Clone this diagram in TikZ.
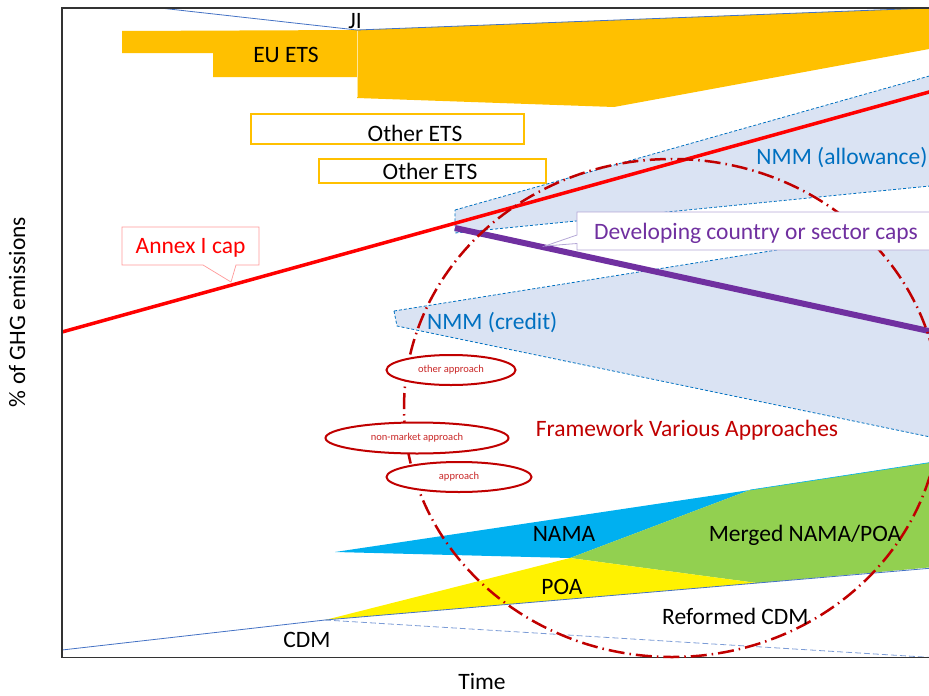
\documentclass[tikz,border=0pt]{standalone}
\usepackage{fontspec}
\setmainfont{Carlito}
\usetikzlibrary{positioning,shapes.geometric}
\definecolor{etsorange}{HTML}{FFC000}
\definecolor{nmmfill}{HTML}{DAE3F3}
\definecolor{nmmblue}{HTML}{0070C0}
\definecolor{dcpurple}{HTML}{7030A0}
\definecolor{dclilac}{HTML}{B4A7D6}
\definecolor{fwred}{HTML}{C00000}
\definecolor{namablue}{HTML}{00B0F0}
\definecolor{mergedgreen}{HTML}{92D050}
\definecolor{cdmblue}{HTML}{4472C4}
\definecolor{annexpink}{HTML}{FF9999}

\begin{document}
\begin{tikzpicture}[x=1pt,y=-1pt,
	lbl/.style={font=\fontsize{23.5}{28}\selectfont,inner sep=0pt,anchor=base},
	etsbox/.style={draw=etsorange,line width=2pt,fill=white},
	nmmline/.style={draw=nmmblue,line width=0.8pt,dash pattern=on 3pt off 2pt},
	approach/.style={ellipse,draw=fwred,line width=2pt,fill=white,inner sep=0pt,text=fwred!85!white,font=\fontsize{10.5}{12}\selectfont},
	]
	\newcommand{\capcolor}{red}
	\newcommand{\cdmcolor}{cdmblue}

		\def\euets{(122,31) -- (357,30) -- (940,7.6) -- (940,47) -- (614,107) -- (357,98) -- (357,77) -- (213,77) -- (213,53) -- (122,53) -- cycle}
		\def\allowance{(455,210) -- (940,73) -- (940,185) -- (455,233) -- cycle}
		\def\credit{(394,311) -- (940,224) -- (940,439) -- (397,326) -- cycle}
		\def\nama{(335,552) -- (750,490) -- (570,558) -- cycle}
		\def\merged{(570,558) -- (750,490) -- (940,461) -- (940,566.5) -- (757,583) -- cycle}
		\def\poa{(325,620) -- (570,558) -- (757,583) -- cycle}

		\useasboundingbox (0,0) rectangle (929,696);
		\clip (0,0) rectangle (929,696);

		\fill[etsorange] \euets;
		\draw[etsorange!40!white,line width=0.6pt] (357,31) -- (357,97);
		\draw[\cdmcolor,line width=0.8pt] (160,8) -- (357,30) -- (940,7.6);

		\draw[etsbox] (251,114) rectangle (524,144);
		\draw[etsbox] (319,159) rectangle (546,183);

		\fill[nmmfill] \allowance;
		\draw[nmmline] \allowance;
		\fill[nmmfill] \credit;
		\draw[nmmline] \credit;

		\draw[\capcolor,line width=3.5pt] (62,332) -- (940,89);
		\draw[dcpurple,line width=6pt] (455,228) -- (940,333.4);

		\draw[annexpink,line width=0.7pt,fill=white] (122,227) -- (259,227) -- (259,265) -- (236,265) -- (231,282) -- (203,265) -- (122,265) -- cycle;

		\fill[namablue] \nama;
		\fill[mergedgreen] \merged;
		\fill[yellow] \poa;
		\draw[namablue,line width=0.6pt] (750,490) -- (940,461);
		\draw[\cdmcolor,line width=0.8pt] (62,650) -- (325,620) -- (940,567.4);
		\draw[\cdmcolor!70!white,line width=0.8pt,dash pattern=on 6pt off 3pt] (325,620) -- (940,658);

		\draw[black!80,line width=1.3pt] (940,8) -- (62,8) -- (62,657.5) -- (940,657.5);

		\draw[fwred,line width=2.5pt,dash pattern=on 16pt off 5pt on 1.5pt off 5pt] (672,408) ellipse [x radius=268pt,y radius=249pt];

		\node[approach,minimum width=129pt,minimum height=30pt] (other) at (451,370) {other approach};
		\node[approach,minimum width=183pt,minimum height=31pt] (nonmarket) at (417,438) {non-market approach};
		\node[approach,minimum width=145pt,minimum height=30pt] (appr) at (459,477) {approach};

		\draw[dclilac,line width=0.8pt,fill=white] (577,212) -- (940,212) -- (940,250) -- (577,250) -- (577,243.5) -- (545,246) -- (577,235) -- cycle;

		\node[lbl] (ji) at (355,28) {JI};
		\node[lbl] (eu) at (286,62) {EU ETS};
		\node[lbl] (other1) at (415,141) {Other ETS};
		\node[lbl] (other2) at (430,179) {Other ETS};
		\node[lbl,text=nmmblue] (allow) at (842,164) {NMM (allowance)};
		\node[lbl,text=dcpurple] (dev) at (756,239) {Developing country or sector caps};
		\node[lbl,text=red] (annex) at (190.5,253) {Annex I cap};
		\node[lbl,text=nmmblue,anchor=base west] (creditlbl) at (427,329) {NMM (credit)};
		\node[lbl,text=fwred] (fw) at (687,436) {Framework Various Approaches};
		\node[lbl] (namalbl) at (564,541) {NAMA};
		\node[lbl] (mergedlbl) at (805,541) {Merged NAMA/POA};
		\node[lbl] (poalbl) at (562,594) {POA};
		\node[lbl,anchor=base west] (reformed) at (662,624) {Reformed CDM};
		\node[lbl] (cdm) at (307,647) {CDM};
		\node[lbl] (time) at (482,689) {Time};
		\node[lbl,rotate=90] (ylab) at (25,312) {\% of GHG emissions};
	\end{tikzpicture}
\end{document}
